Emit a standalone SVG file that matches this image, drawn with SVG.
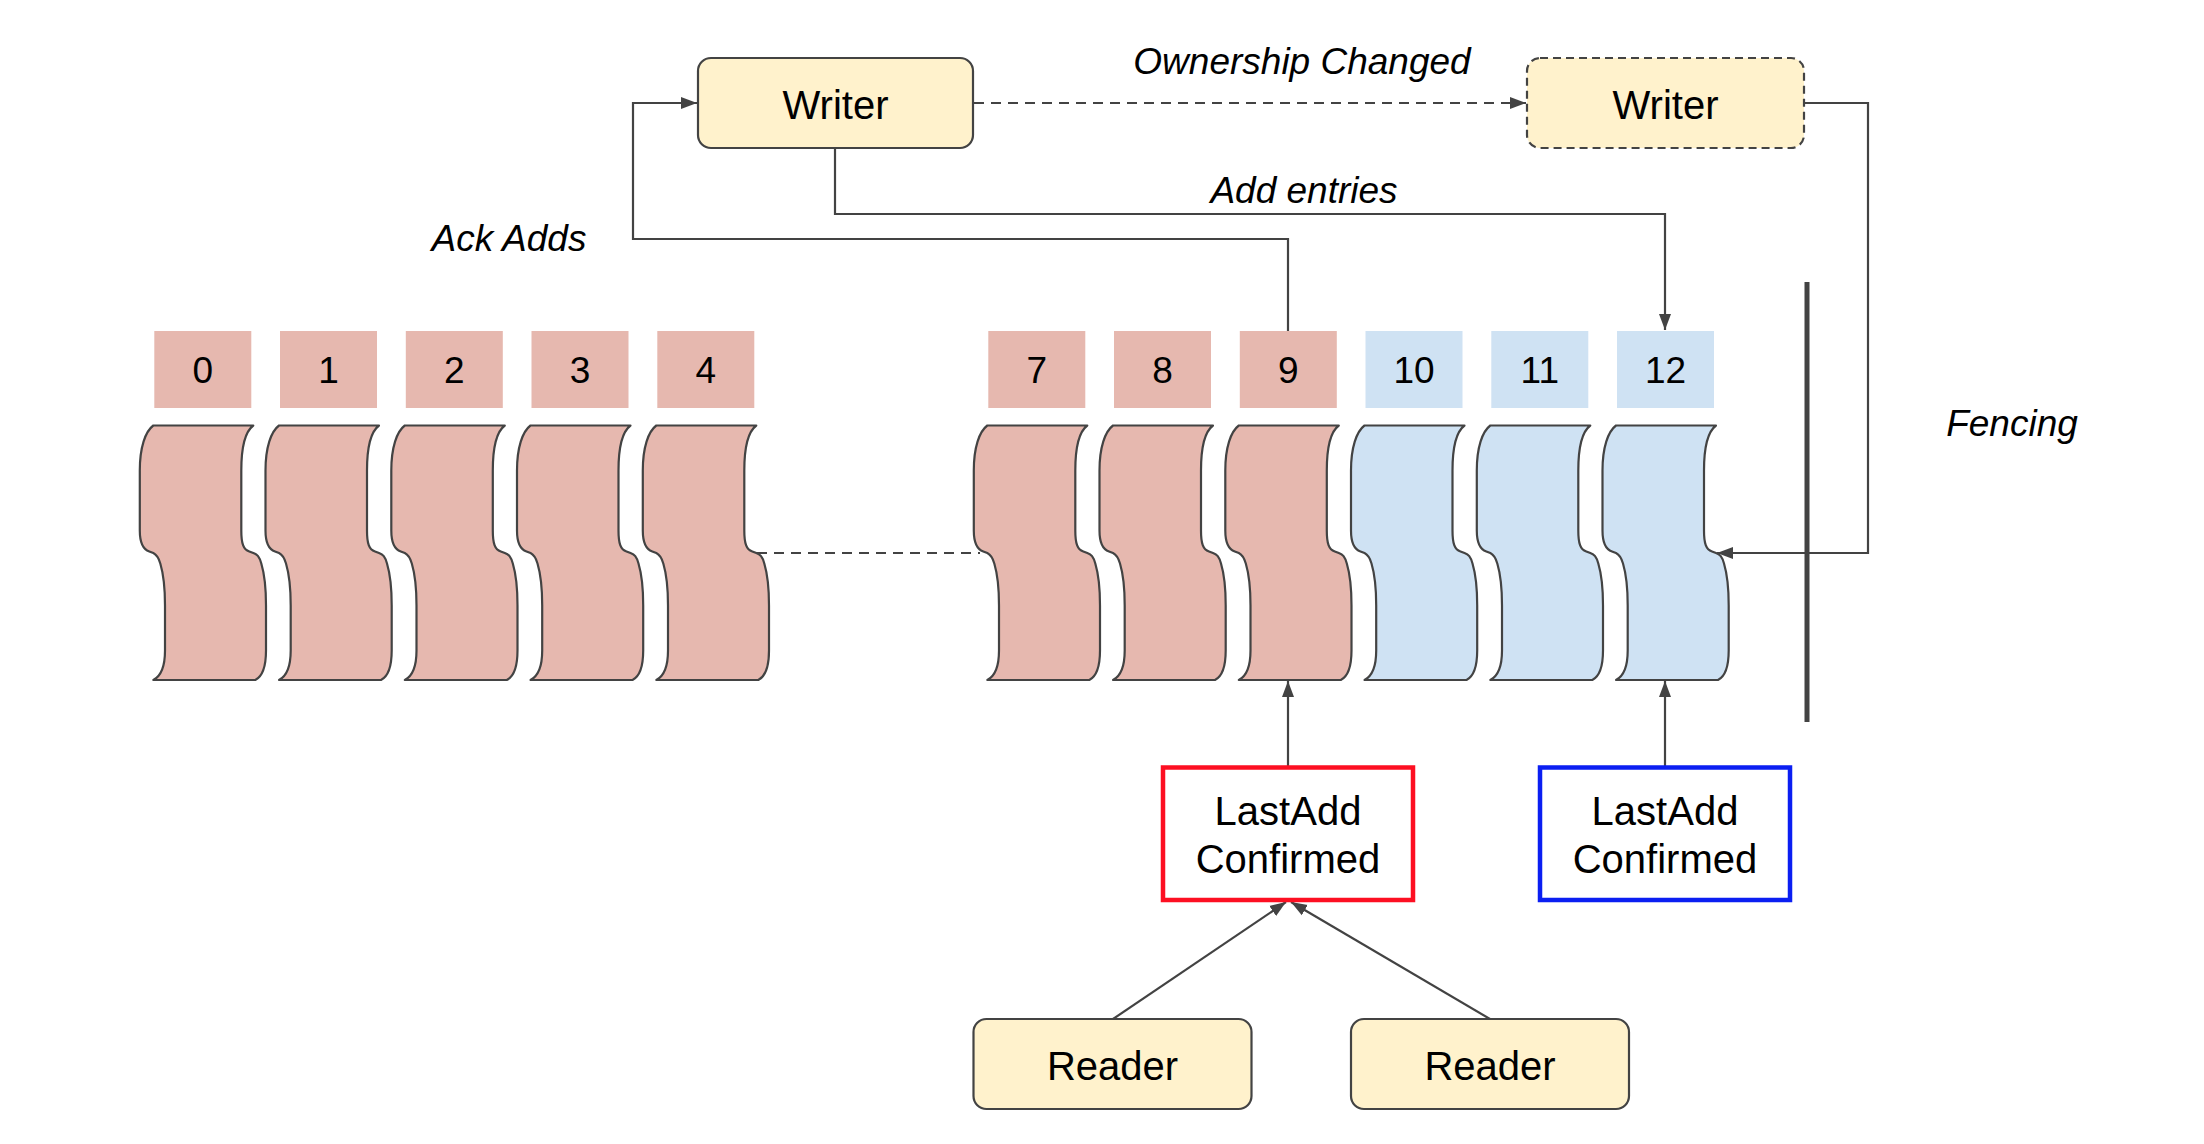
<svg xmlns="http://www.w3.org/2000/svg" xmlns:xlink="http://www.w3.org/1999/xlink" width="2204" height="1144" viewBox="0 0 2204 1144">
<style>
.lbl-r{fill:#e6b8af}
.lbl-b{fill:#cfe2f3}
.scr{stroke:#434343;stroke-width:2.2;stroke-linejoin:round}
.scr-r{fill:#e6b8af}
.scr-b{fill:#cfe2f3}
.num{font-family:"Liberation Sans",Arial,sans-serif;font-size:37px;fill:#000;text-anchor:middle}
.txt{font-family:"Liberation Sans",Arial,sans-serif;font-size:40px;fill:#000;text-anchor:middle}
.it{font-family:"Liberation Sans",Arial,sans-serif;font-size:37px;font-style:italic;fill:#000;text-anchor:middle}
.box{fill:#fff2cc;stroke:#434343;stroke-width:2.2}
.conn{fill:none;stroke:#434343;stroke-width:2.2}
.dash{stroke-dasharray:10 7}
</style>
<defs>
<marker id="arr" markerUnits="userSpaceOnUse" markerWidth="17" markerHeight="13" refX="16" refY="6.5" orient="auto">
<path d="M0,0.5 L16,6.5 L0,12.5 Z" fill="#434343" stroke="none"/>
</marker>
<path id="scroll" d="M0,0 L100,0 C92,6 88,22 88,45 L88,105 C88,118 90,124 96,126 L100,127.5 C104,129 106,131 108,138 C111,148 112.7,162 112.7,180 L112.7,225 C112.7,242 109,251 102,254.5 L0,254.5 C7,251 11.7,242 11.7,225 L11.7,180 C11.7,162 10,148 7,138 C5,131 3,129 0,127.5 L-4,126 C-10,124 -13.5,118 -13.5,105 L-13.5,45 C-13.5,22 -8,6 0,0 Z"/>
</defs>
<rect width="2204" height="1144" fill="#ffffff"/>

<g id="connectors">
<path class="conn" d="M1288,331 L1288,239 L633,239 L633,103 L697,103" marker-end="url(#arr)"/>
<path class="conn" d="M835,148 L835,214 L1665,214 L1665,330" marker-end="url(#arr)"/>
<path class="conn dash" d="M974,103 L1526,103" marker-end="url(#arr)"/>
<path class="conn" d="M1804,103 L1868,103 L1868,553 L1717,553" marker-end="url(#arr)"/>
<path class="conn dash" d="M757,553 L980,553"/>
<path class="conn" d="M1288,767 L1288,681" marker-end="url(#arr)"/>
<path class="conn" d="M1665,767 L1665,681" marker-end="url(#arr)"/>
<path class="conn" d="M1113,1019 L1286,902" marker-end="url(#arr)"/>
<path class="conn" d="M1490,1019 L1291,902" marker-end="url(#arr)"/>
</g>

<g id="entry-0"><rect class="lbl-r" x="154.3" y="331" width="97" height="77"/><text class="num" x="202.8" y="383">0</text><use xlink:href="#scroll" href="#scroll" class="scr scr-r" x="153.3" y="425.5"/></g>
<g id="entry-1"><rect class="lbl-r" x="280" y="331" width="97" height="77"/><text class="num" x="328.5" y="383">1</text><use xlink:href="#scroll" href="#scroll" class="scr scr-r" x="279" y="425.5"/></g>
<g id="entry-2"><rect class="lbl-r" x="405.8" y="331" width="97" height="77"/><text class="num" x="454.3" y="383">2</text><use xlink:href="#scroll" href="#scroll" class="scr scr-r" x="404.8" y="425.5"/></g>
<g id="entry-3"><rect class="lbl-r" x="531.5" y="331" width="97" height="77"/><text class="num" x="580" y="383">3</text><use xlink:href="#scroll" href="#scroll" class="scr scr-r" x="530.5" y="425.5"/></g>
<g id="entry-4"><rect class="lbl-r" x="657.3" y="331" width="97" height="77"/><text class="num" x="705.8" y="383">4</text><use xlink:href="#scroll" href="#scroll" class="scr scr-r" x="656.3" y="425.5"/></g>

<g id="entry-7"><rect class="lbl-r" x="988.3" y="331" width="97" height="77"/><text class="num" x="1036.8" y="383">7</text><use xlink:href="#scroll" href="#scroll" class="scr scr-r" x="987.3" y="425.5"/></g>
<g id="entry-8"><rect class="lbl-r" x="1114" y="331" width="97" height="77"/><text class="num" x="1162.5" y="383">8</text><use xlink:href="#scroll" href="#scroll" class="scr scr-r" x="1113" y="425.5"/></g>
<g id="entry-9"><rect class="lbl-r" x="1239.8" y="331" width="97" height="77"/><text class="num" x="1288.3" y="383">9</text><use xlink:href="#scroll" href="#scroll" class="scr scr-r" x="1238.8" y="425.5"/></g>
<g id="entry-10"><rect class="lbl-b" x="1365.5" y="331" width="97" height="77"/><text class="num" x="1414" y="383">10</text><use xlink:href="#scroll" href="#scroll" class="scr scr-b" x="1364.5" y="425.5"/></g>
<g id="entry-11"><rect class="lbl-b" x="1491.3" y="331" width="97" height="77"/><text class="num" x="1539.8" y="383">11</text><use xlink:href="#scroll" href="#scroll" class="scr scr-b" x="1490.3" y="425.5"/></g>
<g id="entry-12"><rect class="lbl-b" x="1617" y="331" width="97" height="77"/><text class="num" x="1665.5" y="383">12</text><use xlink:href="#scroll" href="#scroll" class="scr scr-b" x="1616" y="425.5"/></g>

<g id="writer-1"><rect class="box" x="698" y="58" width="275" height="90" rx="13"/><text class="txt" x="835.5" y="119">Writer</text></g>
<g id="writer-2"><rect class="box" x="1527" y="58" width="277" height="90" rx="13" stroke-dasharray="8 5"/><text class="txt" x="1665.5" y="119">Writer</text></g>

<g id="fence"><line x1="1807" y1="282" x2="1807" y2="722" stroke="#434343" stroke-width="5"/></g>

<g id="lac-red"><rect x="1163" y="767.5" width="250" height="132.5" fill="#ffffff" stroke="#fd0f22" stroke-width="4.5"/><text class="txt" x="1288" y="825">LastAdd</text><text class="txt" x="1288" y="873">Confirmed</text></g>
<g id="lac-blue"><rect x="1540" y="767.5" width="250" height="132.5" fill="#ffffff" stroke="#0b1ff2" stroke-width="4.5"/><text class="txt" x="1665" y="825">LastAdd</text><text class="txt" x="1665" y="873">Confirmed</text></g>

<g id="reader-1"><rect class="box" x="973.5" y="1019" width="278" height="90" rx="13"/><text class="txt" x="1112.5" y="1080">Reader</text></g>
<g id="reader-2"><rect class="box" x="1351" y="1019" width="278" height="90" rx="13"/><text class="txt" x="1490" y="1080">Reader</text></g>

<g id="labels">
<text class="it" x="1302" y="74">Ownership Changed</text>
<text class="it" x="1304" y="203">Add entries</text>
<text class="it" x="509" y="251">Ack Adds</text>
<text class="it" x="2012" y="436">Fencing</text>
</g>
</svg>
